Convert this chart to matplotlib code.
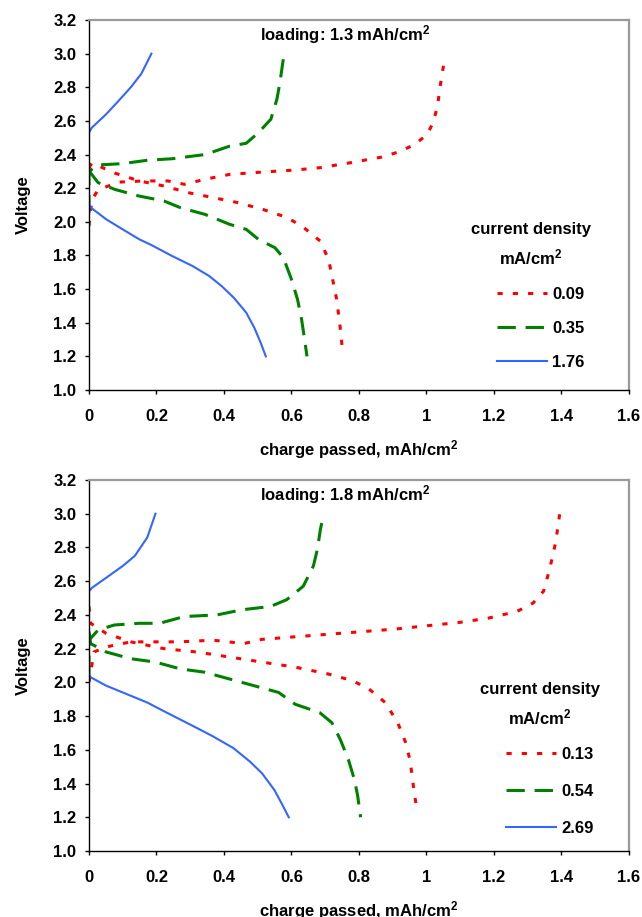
import matplotlib
matplotlib.use('Agg')
import matplotlib.pyplot as plt
from matplotlib.lines import Line2D

plt.rcParams['font.family'] = ['Liberation Sans', 'DejaVu Sans']
plt.rcParams['font.weight'] = 'bold'
plt.rcParams['font.size'] = 12
plt.rcParams['mathtext.fontset'] = 'custom'
plt.rcParams['mathtext.bf'] = 'Liberation Sans:bold'
plt.rcParams['mathtext.rm'] = 'Liberation Sans:bold'
plt.rcParams['mathtext.default'] = 'bf'

# ---- data ----
x_ticks = [0, 0.2, 0.4, 0.6, 0.8, 1.0, 1.2, 1.4, 1.6]
x_ticklabels = ['0', '0.2', '0.4', '0.6', '0.8', '1', '1.2', '1.4', '1.6']
y_ticks = [1.0, 1.2, 1.4, 1.6, 1.8, 2.0, 2.2, 2.4, 2.6, 2.8, 3.0, 3.2]

# top panel, loading 1.3 mAh/cm2
top_labels = ['0.09', '0.35', '1.76']
top_loading = r'loading: 1.3 mAh/cm$^{2}$'

q_top_red_dis = [0, 0.0085, 0.076, 0.149, 0.222, 0.295, 0.368, 0.441, 0.515, 0.588, 0.637, 0.685, 0.71, 0.722, 0.734, 0.744, 0.75]
v_top_red_dis = [2.32, 2.35, 2.29, 2.243, 2.213, 2.173, 2.144, 2.114, 2.074, 2.025, 1.965, 1.886, 1.777, 1.658, 1.539, 1.38, 1.26]
q_top_red_chg = [0, 0.0085, 0.027, 0.088, 0.161, 0.234, 0.283, 0.344, 0.417, 0.515, 0.612, 0.685, 0.771, 0.868, 0.917, 0.966, 1.002, 1.02, 1.033, 1.041, 1.049, 1.054]
v_top_red_chg = [1.975, 2.13, 2.19, 2.236, 2.243, 2.243, 2.223, 2.253, 2.282, 2.296, 2.308, 2.322, 2.35, 2.385, 2.415, 2.46, 2.52, 2.59, 2.69, 2.81, 2.91, 2.97]

q_top_grn_dis = [0, 0.005, 0.027, 0.076, 0.149, 0.222, 0.271, 0.344, 0.417, 0.466, 0.502, 0.551, 0.576, 0.6, 0.618, 0.63, 0.639, 0.646]
v_top_grn_dis = [2.31, 2.29, 2.233, 2.193, 2.153, 2.124, 2.084, 2.044, 1.985, 1.955, 1.896, 1.846, 1.787, 1.658, 1.539, 1.42, 1.30, 1.20]
q_top_grn_chg = [0, 0.0, 0.027, 0.1, 0.173, 0.246, 0.344, 0.417, 0.466, 0.502, 0.539, 0.557, 0.566, 0.576, 0.579]
v_top_grn_chg = [2.05, 2.30, 2.338, 2.346, 2.366, 2.375, 2.40, 2.45, 2.467, 2.53, 2.61, 2.73, 2.83, 2.97, 3.0]

q_top_blu_dis = [0, 0.0085, 0.051, 0.1, 0.149, 0.185, 0.246, 0.307, 0.356, 0.393, 0.429, 0.466, 0.49, 0.509, 0.524]
v_top_blu_dis = [2.10, 2.08, 2.015, 1.955, 1.896, 1.862, 1.797, 1.737, 1.678, 1.618, 1.549, 1.46, 1.37, 1.28, 1.20]
q_top_blu_chg = [0, 0, 0.0085, 0.051, 0.088, 0.124, 0.155, 0.185]
v_top_blu_chg = [2.10, 2.53, 2.56, 2.64, 2.72, 2.80, 2.88, 3.0]

# bottom panel, loading 1.8 mAh/cm2
bot_labels = ['0.13', '0.54', '2.69']
bot_loading = r'loading: 1.8 mAh/cm$^{2}$'

q_bot_red_dis = [0, 0.005, 0.051, 0.124, 0.221, 0.319, 0.416, 0.513, 0.611, 0.708, 0.781, 0.83, 0.878, 0.915, 0.939, 0.951, 0.958, 0.964, 0.97]
v_bot_red_dis = [2.45, 2.35, 2.29, 2.24, 2.20, 2.18, 2.15, 2.12, 2.09, 2.05, 2.01, 1.96, 1.88, 1.76, 1.64, 1.54, 1.44, 1.34, 1.27]
q_bot_red_chg = [0, 0.015, 0.051, 0.124, 0.197, 0.27, 0.367, 0.459, 0.513, 0.611, 0.708, 0.805, 0.903, 1.0, 1.097, 1.182, 1.268, 1.316, 1.347, 1.365, 1.383, 1.395]
v_bot_red_chg = [2.0, 2.18, 2.21, 2.24, 2.24, 2.24, 2.25, 2.23, 2.255, 2.27, 2.285, 2.30, 2.315, 2.335, 2.355, 2.38, 2.42, 2.47, 2.54, 2.67, 2.83, 3.0]

q_bot_grn_dis = [0, 0.005, 0.051, 0.124, 0.197, 0.27, 0.343, 0.416, 0.489, 0.562, 0.611, 0.684, 0.72, 0.745, 0.769, 0.787, 0.796, 0.805]
v_bot_grn_dis = [2.30, 2.23, 2.18, 2.14, 2.12, 2.08, 2.06, 2.02, 1.98, 1.94, 1.87, 1.82, 1.76, 1.66, 1.54, 1.42, 1.33, 1.20]
q_bot_grn_chg = [0, 0.0, 0.027, 0.075, 0.148, 0.209, 0.282, 0.38, 0.453, 0.538, 0.586, 0.635, 0.665, 0.677, 0.686, 0.696]
v_bot_grn_chg = [2.05, 2.25, 2.31, 2.34, 2.35, 2.35, 2.39, 2.40, 2.43, 2.45, 2.49, 2.57, 2.69, 2.79, 2.91, 3.0]

q_bot_blu_dis = [0, 0.005, 0.051, 0.1, 0.173, 0.221, 0.27, 0.319, 0.367, 0.428, 0.477, 0.513, 0.55, 0.574, 0.592]
v_bot_blu_dis = [2.05, 2.03, 1.98, 1.94, 1.88, 1.83, 1.78, 1.73, 1.68, 1.61, 1.53, 1.46, 1.36, 1.27, 1.20]
q_bot_blu_chg = [0, 0, 0.0085, 0.051, 0.1, 0.136, 0.173, 0.197]
v_bot_blu_chg = [2.05, 2.54, 2.56, 2.62, 2.69, 2.75, 2.86, 3.0]

# ---- styles ----
red = '#ff0000'
green = '#008000'
blue = '#3366ff'
red_ls = (0, (1.7, 3.3))
grn_ls = (0, (6.0, 3.2))
lw_dash = 2.2
lw_blue = 1.5


def draw_panel(ax, curves, labels, loading, leg_anchor, leg_spacing, title_x, title_y):
    (qrd, vrd, qrc, vrc, qgd, vgd, qgc, vgc, qbd, vbd, qbc, vbc) = curves
    ax.plot(qrd, vrd, color=red, lw=lw_dash, ls=red_ls)
    ax.plot(qrc, vrc, color=red, lw=lw_dash, ls=red_ls)
    ax.plot(qgd, vgd, color=green, lw=lw_dash, ls=grn_ls)
    ax.plot(qgc, vgc, color=green, lw=lw_dash, ls=grn_ls)
    ax.plot(qbd, vbd, color=blue, lw=lw_blue)
    ax.plot(qbc, vbc, color=blue, lw=lw_blue)

    ax.set_xlim(0, 1.6)
    ax.set_ylim(1.0, 3.2)
    ax.set_xticks(x_ticks)
    ax.set_xticklabels(x_ticklabels)
    ax.set_yticks(y_ticks)
    ax.set_yticklabels(['%.1f' % t for t in y_ticks])
    ax.tick_params(direction='out', length=3, width=1, labelsize=12)
    ax.tick_params(axis='x', pad=11)
    ax.tick_params(axis='y', pad=6)
    for s in ['top', 'right']:
        ax.spines[s].set_color('#9a9a9a')
        ax.spines[s].set_linewidth(1.6)
    for s in ['left', 'bottom']:
        ax.spines[s].set_color('black')
        ax.spines[s].set_linewidth(1)

    ax.set_ylabel('Voltage', fontsize=12, fontweight='bold', labelpad=16)
    ax.set_xlabel(r'charge passed, mAh/cm$^{2}$', fontsize=12, fontweight='bold', labelpad=10)
    ax.text(0.474, 0.962, loading, transform=ax.transAxes, ha='center', va='center',
            fontsize=12, fontweight='bold')

    # legend heading
    ax.text(title_x, title_y[0], 'current density', transform=ax.transAxes,
            ha='center', va='center', fontsize=12, fontweight='bold')
    ax.text(title_x, title_y[1], r'mA/cm$^{2}$', transform=ax.transAxes,
            ha='center', va='center', fontsize=12, fontweight='bold')

    handles = [Line2D([], [], color=red, lw=lw_dash, ls=red_ls),
               Line2D([], [], color=green, lw=lw_dash, ls=grn_ls),
               Line2D([], [], color=blue, lw=lw_blue)]
    ax.legend(handles, labels, loc='upper left', bbox_to_anchor=leg_anchor,
              frameon=False, handlelength=3.0, handletextpad=0.3,
              labelspacing=leg_spacing, prop={'weight': 'bold', 'size': 12})


fig = plt.figure(figsize=(6.42, 9.17), dpi=100)
ax1 = fig.add_axes([0.1386, 0.5747, 0.841, 0.4035])
ax2 = fig.add_axes([0.1386, 0.0720, 0.841, 0.4046])

draw_panel(ax1, (q_top_red_dis, v_top_red_dis, q_top_red_chg, v_top_red_chg,
                 q_top_grn_dis, v_top_grn_dis, q_top_grn_chg, v_top_grn_chg,
                 q_top_blu_dis, v_top_blu_dis, q_top_blu_chg, v_top_blu_chg),
           top_labels, top_loading, (0.7284, 0.319), 1.13, 0.8185, (0.435, 0.359))
draw_panel(ax2, (q_bot_red_dis, v_bot_red_dis, q_bot_red_chg, v_bot_red_chg,
                 q_bot_grn_dis, v_bot_grn_dis, q_bot_grn_chg, v_bot_grn_chg,
                 q_bot_blu_dis, v_bot_blu_dis, q_bot_blu_chg, v_bot_blu_chg),
           bot_labels, bot_loading, (0.7450, 0.320), 1.31, 0.835, (0.436, 0.360))

fig.savefig('out.png', dpi=100)
